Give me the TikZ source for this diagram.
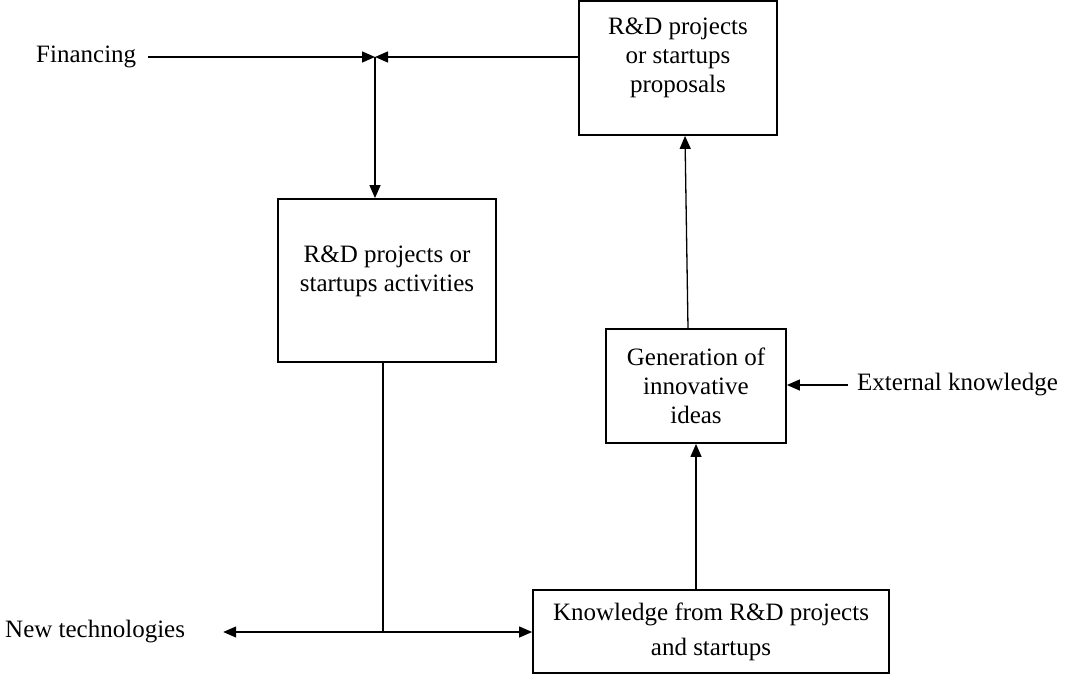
\documentclass[tikz,border=0pt]{standalone}
\usepackage{fontspec}
\setmainfont{Liberation Serif}
\usetikzlibrary{arrows.meta,calc}
\begin{document}
\begin{tikzpicture}[x=1pt,y=-1pt,
  box/.style={draw, line width=1.8pt, inner sep=0pt},
  lbl/.style={font=\fontsize{25}{29}\selectfont, align=center, inner sep=0pt},
  arr/.style={-{Triangle[length=13pt,width=11pt]}, line width=1.3pt},
  wire/.style={line width=1.3pt}]
\useasboundingbox (0,0) rectangle (1065,677);

% boxes
\node[box, minimum width=198pt, minimum height=134pt] (prop) at (678,68) {};
\node[lbl] (proptxt) at (678,58) {R\&D projects\\or startups\\proposals};
\node[box, minimum width=218pt, minimum height=163pt] (act) at (387,280.5) {};
\node[lbl] (acttxt) at (387,271) {R\&D projects or\\startups activities};
\node[box, lbl, minimum width=180pt, minimum height=114pt] (gen) at (696,386) {Generation of\\innovative\\ideas};
\node[box, lbl, minimum width=356pt, minimum height=83pt] (know) at (711,631.5) {Knowledge from R\&D projects\\[6pt]and startups};

% free labels
\node[lbl, anchor=west] (fin) at (36,57) {Financing};
\node[lbl, anchor=west] (newt) at (5,632) {New technologies};
\node[lbl, anchor=west] (ext) at (857,385) {External knowledge};

% junctions
\coordinate (J) at (375,57);
\coordinate (K) at (383,632);

% connectors
\draw[arr] ([xshift=12pt]fin.east) -- (J);
\draw[arr] (J -| prop.west) -- (J);
\draw[arr] (J) -- (J |- act.north);
\draw[wire] (K |- act.south) -- (K);
\draw[arr, shorten >=38pt] (K) -- (K -| newt.east);
\draw[arr] (K) -- (K -| know.west);
\draw[arr] (gen.south |- know.north) -- (gen.south);
\draw[arr] ([xshift=-8pt]gen.north) -- ([xshift=7pt]prop.south);
\draw[arr] ([xshift=-9pt]ext.west) -- (ext.west -| gen.east);
\end{tikzpicture}
\end{document}
